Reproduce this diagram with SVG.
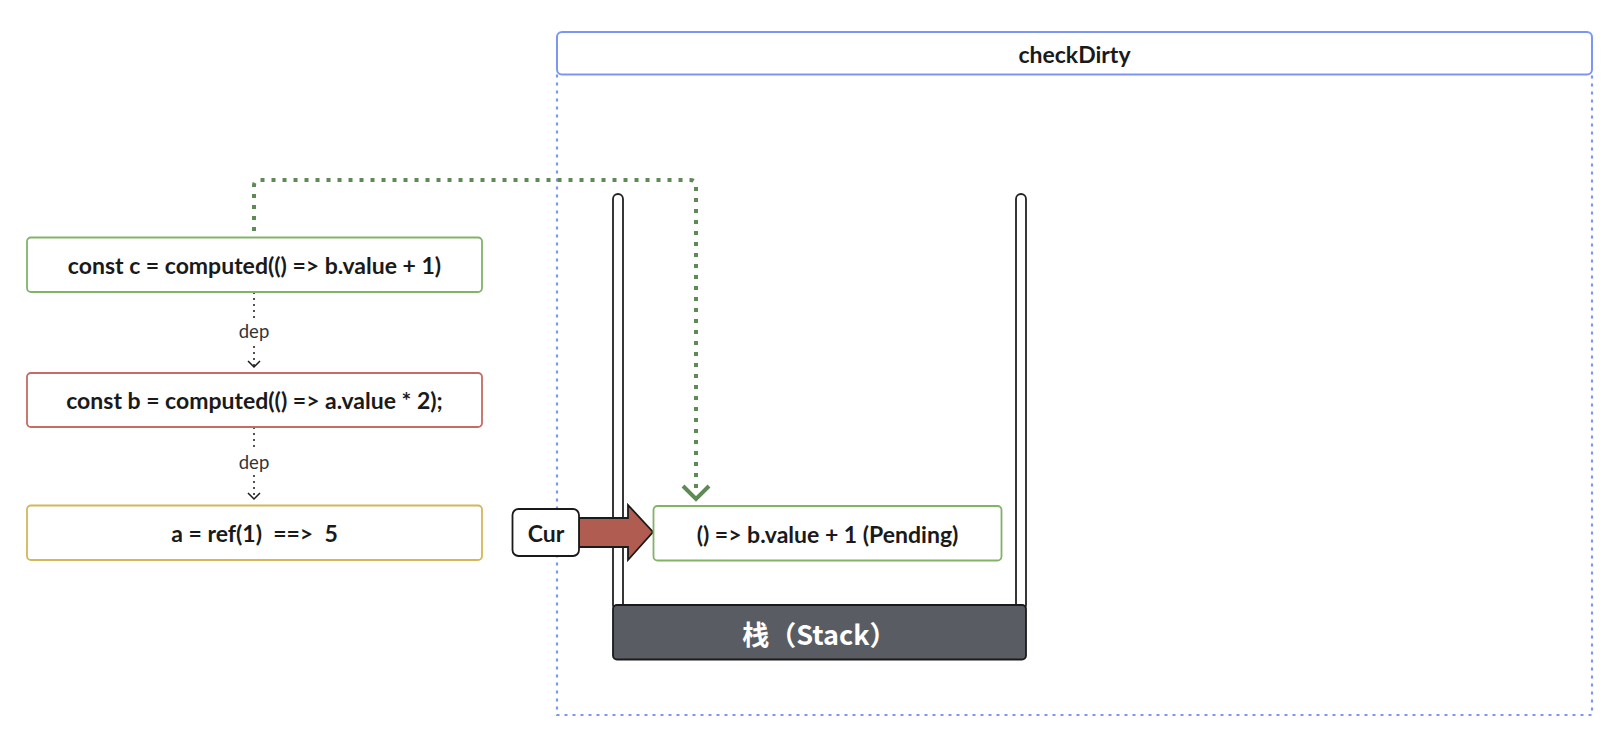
<svg xmlns="http://www.w3.org/2000/svg" width="1624" height="752" viewBox="0 0 1624 752">
<style>
.node{fill:#fff;stroke-width:1.8}
.t{font-family:Lato,"Noto Sans","Liberation Sans",sans-serif;font-weight:bold;font-size:23px;fill:#1a1a1a;text-anchor:middle;dominant-baseline:central}
.lbl{font-family:Lato,"Noto Sans","Liberation Sans",sans-serif;font-size:18.5px;fill:#333;text-anchor:middle;dominant-baseline:central}
.dep{fill:none;stroke:#1a1a1a;stroke-width:1.5}
.grn{fill:none;stroke:#5e8a56;stroke-width:4}
</style>
<rect width="1624" height="752" fill="#fff"/>

<g id="checkDirty">
<path d="M557,74.5 V715 H1592 V74.5" fill="none" stroke="#7b96f5" stroke-width="2.2" stroke-dasharray="3 5"/>
<rect x="557" y="32" width="1035" height="42.5" rx="5" fill="#fff" stroke="#7b96f5" stroke-width="2"/>
<text class="t" x="1074.5" y="54">checkDirty</text>
</g>

<g id="stack">
<rect x="613" y="194" width="10" height="416" rx="5" fill="#fff" stroke="#222" stroke-width="1.8"/>
<rect x="1016" y="194" width="10" height="416" rx="5" fill="#fff" stroke="#222" stroke-width="1.8"/>
<rect x="613" y="605" width="413" height="54.5" rx="4" fill="#595d63" stroke="#1a1a1a" stroke-width="1.8"/>
<text class="t" x="819.5" y="633" style="fill:#fff;font-size:27px;font-weight:600;font-family:'Noto Sans CJK SC','Noto Sans',sans-serif">栈（Stack）</text>
</g>

<g id="connectors">
<path class="dep" d="M254,292 V367" stroke-dasharray="2 4"/>
<path class="dep" d="M248,361 L254,367 L260,361"/>
<rect x="234" y="320" width="40" height="24" fill="#fff"/>
<text class="lbl" x="254" y="331">dep</text>
<path class="dep" d="M254,427 V499" stroke-dasharray="2 4"/>
<path class="dep" d="M248,493 L254,499 L260,493"/>
<rect x="234" y="451" width="40" height="24" fill="#fff"/>
<text class="lbl" x="254" y="462">dep</text>
<path class="grn" d="M254,231 V186 Q254,180 260,180 H690 Q696,180 696,186 V494" stroke-dasharray="4 7"/>
<path class="grn" d="M683,486 L696,499 L709,486" stroke-width="3.5"/>
<path d="M579,518 H628 V505 L653,532 L628,560 V547 H579 Z" fill="#b05c50" stroke="#1a1a1a" stroke-width="1.8" stroke-linejoin="miter"/>
</g>

<g id="node-c">
<rect class="node" x="27" y="237.5" width="455" height="54.5" rx="4" stroke="#82b366"/>
<text class="t" x="254.5" y="265">const c = computed(() =&gt; b.value + 1)</text>
</g>
<g id="node-b">
<rect class="node" x="27" y="373" width="455" height="54" rx="4" stroke="#c66a64"/>
<text class="t" x="254.5" y="400">const b = computed(() =&gt; a.value * 2);</text>
</g>
<g id="node-a">
<rect class="node" x="27" y="505.5" width="455" height="54.5" rx="4" stroke="#d6b656"/>
<text class="t" x="254.5" y="533" xml:space="preserve">a = ref(1)  ==&gt;  5</text>
</g>
<g id="node-pending">
<rect class="node" x="653.5" y="506" width="348" height="54.5" rx="4" stroke="#82b366"/>
<text class="t" x="827.5" y="533.5">() =&gt; b.value + 1 (Pending)</text>
</g>
<g id="node-cur">
<rect class="node" x="512.5" y="509" width="66.5" height="47" rx="6" stroke="#1a1a1a"/>
<text class="t" x="546" y="532.5">Cur</text>
</g>
</svg>
